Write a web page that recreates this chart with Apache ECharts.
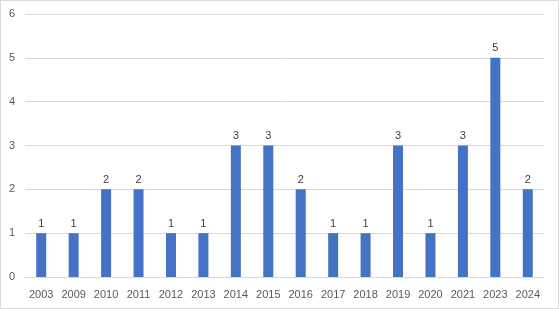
<!DOCTYPE html>
<html>
<head>
<meta charset="utf-8">
<script src="https://cdn.jsdelivr.net/npm/echarts@6/dist/echarts.min.js"></script>
<style>
  html, body { margin: 0; padding: 0; background: #fff; }
  #chart { width: 557px; height: 307px; border: 1px solid #d9d9d9; }
</style>
</head>
<body>
<div id="chart"></div>
<script>
const years = ['2003', '2009', '2010', '2011', '2012', '2013', '2014', '2015',
  '2016', '2017', '2018', '2019', '2020', '2021', '2023', '2024']
const counts = [1, 1, 2, 2, 1, 1, 3, 3, 2, 1, 1, 3, 1, 3, 5, 2]
const yTicks = [0, 1, 2, 3, 4, 5, 6]

const chart = echarts.init(document.getElementById('chart'))
const font = 'Liberation Sans, Arial, sans-serif'

chart.setOption({
  animation: false,
  grid: { left: 24, right: 14, top: 13, bottom: 31 },
  xAxis: {
    type: 'category',
    data: years,
    axisLine: { lineStyle: { color: '#d9d9d9' } },
    axisTick: { show: false },
    axisLabel: { color: '#595959', fontSize: 11, fontFamily: font, margin: 12 },
  },
  yAxis: {
    type: 'value',
    min: yTicks[0],
    max: yTicks[yTicks.length - 1],
    interval: 1,
    axisLine: { show: false },
    axisTick: { show: false },
    axisLabel: { color: '#595959', fontSize: 11, fontFamily: font, margin: 10 },
    splitLine: { lineStyle: { color: '#d9d9d9' } },
  },
  series: [{
    type: 'bar',
    data: counts,
    barWidth: 10,
    itemStyle: { color: '#4472c4' },
    label: {
      show: true,
      position: 'top',
      distance: 4,
      color: '#404040',
      fontSize: 11,
      fontFamily: font,
    },
  }],
})
</script>
</body>
</html>
